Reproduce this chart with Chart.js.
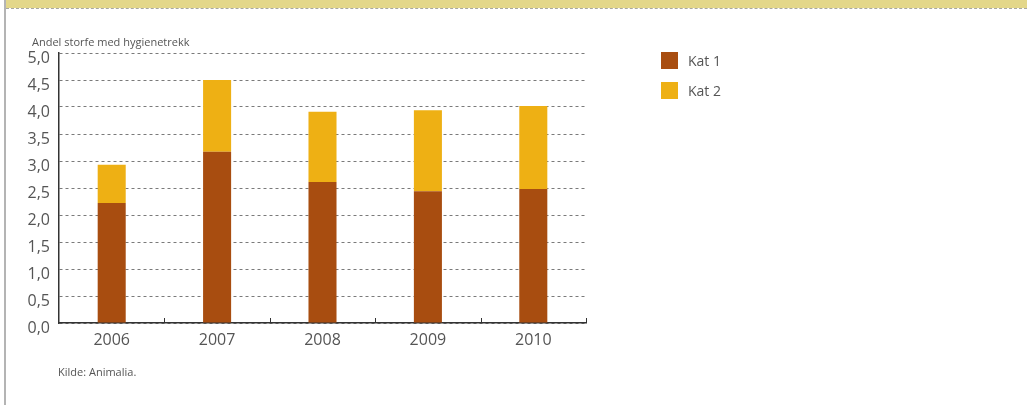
<!DOCTYPE html>
<html lang="no">
<head>
<meta charset="utf-8">
<title>Andel storfe med hygienetrekk</title>
<script src="https://cdn.jsdelivr.net/npm/chart.js@4/dist/chart.umd.min.js"></script>
<style>
  html, body { margin: 0; padding: 0; background: #fff; }
  body { width: 1027px; height: 405px; position: relative; overflow: hidden; font-family: "Open Sans", sans-serif; color: #555; }
  .band { position: absolute; left: 6px; top: 0; width: 1021px; height: 8px; background: #e3d78a; }
  .band-rule { position: absolute; left: 6px; top: 8px; width: 1021px; height: 0; border-top: 1px dashed #a8a8a0; }
  .side-rule { position: absolute; left: 4px; top: 0; width: 2px; height: 405px; background: #b4b4b4; }
  #wrap { position: absolute; left: 0; top: 0; width: 1027px; height: 405px; }
  .ytitle { position: absolute; left: 32px; top: 34px; font-size: 11px; color: #555; white-space: nowrap; }
  .source { position: absolute; left: 58px; top: 364px; font-size: 11px; color: #555; white-space: nowrap; }
  #legend { position: absolute; left: 661px; top: 52px; }
  .lg-item { display: flex; align-items: center; height: 17px; margin-bottom: 13px; font-size: 14px; color: #555; }
  .lg-box { width: 17px; height: 17px; margin-right: 10px; }
</style>
</head>
<body>
<div class="band"></div>
<div class="band-rule"></div>
<div class="side-rule"></div>
<div id="wrap"><canvas id="chart" width="1027" height="405"></canvas></div>
<div class="ytitle">Andel storfe med hygienetrekk</div>
<div id="legend"></div>
<div class="source">Kilde: Animalia.</div>
<script>
// Years on the category axis
const years = ['2006', '2007', '2008', '2009', '2010'];
// Share of cattle with hygiene markings, per category (stacked)
const kat1 = [2.22, 3.17, 2.61, 2.44, 2.48];
const kat2 = [0.71, 1.33, 1.30, 1.50, 1.54];
// Series names and colours
const seriesNames = ['Kat 1', 'Kat 2'];
const seriesColors = ['#a84d10', '#eeb014'];

const PLOT_LEFT = 59, PLOT_RIGHT = 586, PLOT_TOP = 53, PLOT_BOTTOM = 323;
const W = 1027, H = 405;

// Short upward tick marks between categories on the x axis
const innerTicks = {
  id: 'innerTicks',
  afterDraw(chart) {
    const xs = chart.scales.x;
    const ctx = chart.ctx;
    const y0 = chart.chartArea.bottom;
    ctx.save();
    ctx.strokeStyle = '#333';
    ctx.lineWidth = 1;
    for (let i = 1; i <= years.length; i++) {
      const x = Math.round(xs.getPixelForValue(i - 0.5)) + 0.5;
      ctx.beginPath();
      ctx.moveTo(x, y0);
      ctx.lineTo(x, y0 - 5);
      ctx.stroke();
    }
    ctx.restore();
  }
};

const chart = new Chart(document.getElementById('chart'), {
  type: 'bar',
  data: {
    labels: years,
    datasets: [
      { label: seriesNames[0], data: kat1, backgroundColor: seriesColors[0] },
      { label: seriesNames[1], data: kat2, backgroundColor: seriesColors[1] }
    ]
  },
  options: {
    responsive: false,
    animation: false,
    devicePixelRatio: 1,
    layout: { padding: { left: 0, top: PLOT_TOP, right: W - PLOT_RIGHT, bottom: 0 } },
    datasets: { bar: { categoryPercentage: 1, barPercentage: 0.266 } },
    plugins: { legend: { display: false }, tooltip: { enabled: false } },
    scales: {
      x: {
        stacked: true,
        offset: true,
        grid: { display: false, drawTicks: false },
        border: { display: true, color: '#333', width: 1.5 },
        ticks: { color: '#555', font: { family: 'Open Sans', size: 16 }, padding: 8 },
        afterFit(scale) { scale.height = H - PLOT_BOTTOM; }
      },
      y: {
        stacked: true,
        min: 0,
        max: 5,
        grid: { color: '#7a7a7a', lineWidth: 1, drawTicks: false },
        border: { display: true, color: '#333', width: 1.5, dash: [3, 3] },
        ticks: {
          stepSize: 0.5,
          color: '#555',
          font: { family: 'Open Sans', size: 16 },
          padding: 9,
          labelOffset: 5,
          callback: v => Number(v).toFixed(1).replace('.', ',')
        },
        afterFit(scale) { scale.width = PLOT_LEFT; }
      }
    }
  },
  plugins: [innerTicks]
});

// Legend entries built from the datasets
const legend = document.getElementById('legend');
chart.data.datasets.forEach(ds => {
  const item = document.createElement('div');
  item.className = 'lg-item';
  const box = document.createElement('span');
  box.className = 'lg-box';
  box.style.background = ds.backgroundColor;
  const txt = document.createElement('span');
  txt.textContent = ds.label;
  item.appendChild(box);
  item.appendChild(txt);
  legend.appendChild(item);
});
</script>
</body>
</html>
